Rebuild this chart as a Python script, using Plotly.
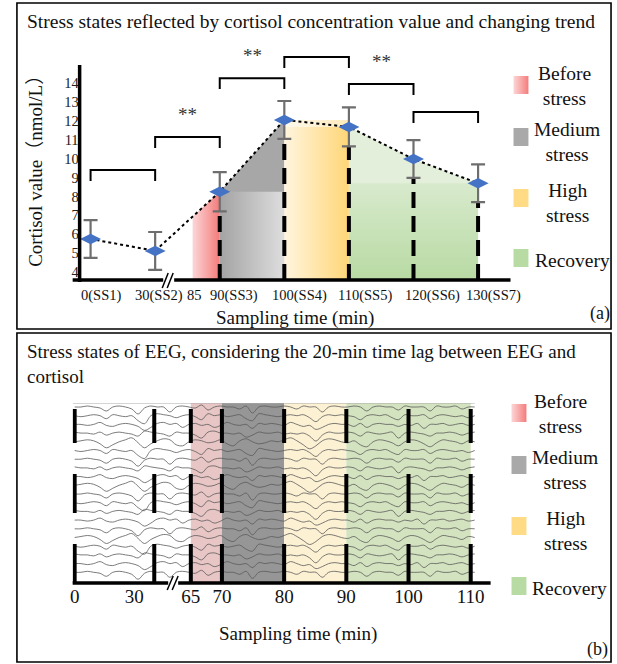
import plotly.graph_objects as go
import numpy as np

W, H = 617, 664
SERIF = "Liberation Serif, Times New Roman, Noto Sans CJK SC, serif"

# ---------------- Panel (a) data ----------------
sample_times = [0, 30, 90, 100, 110, 120, 130]
cortisol_mean = [5.75, 5.12, 8.25, 12.05, 11.68, 9.98, 8.70]
cortisol_err = [1.0, 1.0, 1.04, 1.0, 1.03, 1.0, 1.0]
a_tick_times = [0, 30, 85, 90, 100, 110, 120, 130]
a_tick_text = ["0(SS1)", "30(SS2)", "85", "90(SS3)", "100(SS4)", "110(SS5)", "120(SS6)", "130(SS7)"]
y_tick_vals = [4, 5, 6, 7, 8, 9, 10, 11, 12, 13, 14]
sig_pairs = [(0, 1), (1, 2), (2, 3), (3, 4), (4, 5), (5, 6)]
sig_marks = ["", "**", "**", "", "**", ""]

# stages
stage_names = ["Before<br>stress", "Medium<br>stress", "High<br>stress", "Recovery"]
cort_stage_start = [85, 90, 100, 110]
cort_stage_end = [90, 100, 110, 130]
eeg_stage_start = [65, 70, 80, 90]
eeg_stage_end = [70, 80, 90, 110]

# ---------------- Panel (b) data ----------------
b_tick_times = [0, 30, 65, 70, 80, 90, 100, 110]
eeg_marks = [0, 40, 65, 70, 80, 90, 100, 110]
eeg_A = [0, 0, 1, 0, -1, -4, 0, 1, 0, -2, -7, -1, 1, 0, 0, -5, 0, 1, 0, -1, 2, -3, 0, 1, 0, 0, -2, 1, -6, 0, 1, 0,
         0, 1, 0, -2, 1, 0, 0, -5, 0, 1, 0, 0, 1, 0, -4, 0, 1, 0, 0, -3, 1, 0, 0, 0, -4, 1, 0, 0, 1, -2, 0, 0]
eeg_B = [0, 1, 2, 1, -2, -6, -3, 0, 2, 4, -1, -6, -2, 1, 3, 2, -3, -4, 0, 2, 1, -1, 0, 2, -2, -4, 1, 3, 0, -2, -1, 1,
         0, 2, 4, 1, -3, -7, -4, 1, 3, 2, 0, -1, 1, -3, -5, 0, 2, 1, -1, -4, 0, 2, 1, -2, -5, -1, 2, 1, 0, -2, 1, 0]
eeg_C = [0, -1, 0, 1, 0, -3, 1, 0, -1, 0, -5, -8, 0, 2, 1, 0, -2, 0, 1, -1, -4, 2, 0, 1, -1, 0, 1, -3, -5, 2, 1, 0,
         -1, 0, 1, 0, 1, -2, -6, -1, 1, 0, 1, 0, -1, -4, 0, 1, 0, 1, -2, -4, 1, 0, 0, 1, -3, 0, 1, 0, -1, 0, -2, 0]
eeg_D = [1, 0, 0, -1, 1, -2, 0, 1, 0, -1, -3, 2, 1, 0, -1, -3, 1, 0, 0, -2, -5, 1, 2, 0, 0, -1, 0, -4, -2, 1, 0, 0,
         1, -1, 0, -1, 0, -3, -8, -2, 1, 0, 0, 1, 0, -3, 1, 0, -1, 0, 1, -5, 0, 1, 0, -1, -3, 0, 0, 1, 0, -2, 0, 1]
eeg_E = [0, 0, -1, 0, 2, -1, -2, 0, 1, 0, -2, -6, -3, 1, 2, 0, 1, -3, 0, 1, -1, 0, -3, -1, 2, 0, -1, 0, -4, 1, 0, 1,
         0, -1, 2, 0, -2, -1, -5, -3, 0, 1, 0, 0, -2, 1, -3, 0, 1, 0, 0, -2, 0, -1, 1, -4, 0, 0, 1, -1, 0, 1, -1, 0]
eeg_channels = [eeg_A, eeg_C, eeg_E, eeg_D, eeg_B, eeg_C, eeg_A, eeg_D, eeg_E, eeg_B,
                eeg_A, eeg_C, eeg_D, eeg_E, eeg_A, eeg_B, eeg_C, eeg_D, eeg_E, eeg_A]

# ---------------- style ----------------
stage_fill_b = ["#e8c6c5", "#969696", "#fdf1d4", "#d4e3bf"]
legend_cols = ["#f7a5a5", "#a9a9a9", "#ffdb85", "#b8dba4"]
a_label_shift = [10, 4, 2, 14, 15, 16, 19, 15]
bracket_top = [9.40, 11.14, 14.26, 15.38, 13.95, 12.47]
BRACKET_LEG = 0.58
Y_BASE = 3.58
A_X0, A_DX = 88.0, 64.9


def pos_a(t):
    if t <= 30:
        return t / 30.0
    if t >= 90:
        return 2 + (t - 90) / 10.0
    return 2 - (90 - t) / 5.0 * 0.42


def pos_b(t):
    return 220 + (t - 70) * 6.25 if t >= 65 else 72 + 2.0 * t


def px(x):
    return x / W


def py(y):
    return 1 - y / H


fig = go.Figure()
pa = [pos_a(t) for t in sample_times]
m = cortisol_mean

# ----- panel (a) stage fills -----
p85, p90, p100, p110, p130 = [pos_a(t) for t in (85, 90, 100, 110, 130)]
line85 = float(np.interp(p85, pa, m))


def poly(xs, ys, **kw):
    fig.add_trace(go.Scatter(x=xs, y=ys, mode="lines", fill="toself", line=dict(width=0),
                             hoverinfo="skip", xaxis="x", yaxis="y", **kw))


poly([p85, p85, p90, p90], [Y_BASE, line85, m[2], Y_BASE],
     fillgradient=dict(type="horizontal", colorscale=[[0, "#fcd6d6"], [1, "#f37b7b"]]))
poly([p90, p90, p100, p100], [Y_BASE, m[2], m[3], Y_BASE], fillcolor="#a7a7a7")
poly([p90, p90, p100, p100], [Y_BASE, m[2], m[2], Y_BASE],
     fillgradient=dict(type="horizontal", colorscale=[[0, "#a3a3a3"], [1, "#dedede"]]))
poly([p100, p100, p110, p110], [Y_BASE, m[3], m[3], Y_BASE],
     fillgradient=dict(type="horizontal", colorscale=[[0, "#fff5de"], [1, "#ffd677"]]))
poly([p100, p100, p110, p110], [m[4], m[3], m[3], m[4]], fillcolor="rgba(255,255,255,0.5)")
poly([p110, p110, pa[5], p130, p130], [Y_BASE, m[4], m[5], m[6], Y_BASE], fillcolor="#e3efda")
poly([p110, p110, p130, p130], [Y_BASE, m[6], m[6], Y_BASE],
     fillgradient=dict(type="vertical", colorscale=[[0, "#b8daa3"], [1, "#d8eacd"]]))

# ----- dashed verticals -----
for i, t in enumerate(sample_times):
    if t >= 90:
        fig.add_trace(go.Scatter(x=[pa[i], pa[i]], y=[Y_BASE, m[i] - cortisol_err[i]], mode="lines",
                                 line=dict(color="black", width=4, dash="16px,8px"),
                                 hoverinfo="skip", xaxis="x", yaxis="y"))

# ----- dotted trend line -----
fig.add_trace(go.Scatter(x=pa, y=m, mode="lines", line=dict(color="black", width=2, dash="dot"),
                         hoverinfo="skip", xaxis="x", yaxis="y"))
# ----- markers with error bars -----
fig.add_trace(go.Scatter(x=pa, y=m, mode="markers",
                         marker=dict(symbol="diamond-wide", size=15, color="#4472c4"),
                         error_y=dict(type="data", array=cortisol_err, color="#6e6e6e", thickness=2.2, width=7),
                         hoverinfo="skip", xaxis="x", yaxis="y"))

# ----- significance brackets -----
annotations = []
for k, (i, j) in enumerate(sig_pairs):
    top = bracket_top[k]
    fig.add_trace(go.Scatter(x=[pa[i], pa[i], pa[j], pa[j]],
                             y=[top - BRACKET_LEG, top, top, top - BRACKET_LEG], mode="lines",
                             line=dict(color="black", width=2), hoverinfo="skip", xaxis="x", yaxis="y"))
    if sig_marks[k]:
        annotations.append(dict(x=(pa[i] + pa[j]) / 2, y=top + 0.55, xref="x", yref="y", text=sig_marks[k],
                                showarrow=False, font=dict(family=SERIF, size=19, color="#333"),
                                xanchor="center", yanchor="bottom"))

# ----- panel (a) x tick labels -----
for t, lab, sh in zip(a_tick_times, a_tick_text, a_label_shift):
    annotations.append(dict(x=pos_a(t), y=py(295), xref="x", yref="paper", text=lab, showarrow=False,
                            xshift=sh, font=dict(family=SERIF, size=14.5, color="#111"),
                            xanchor="center", yanchor="middle"))

# ---------------- panel (b) ----------------
shapes = []
for s, e, c in zip(eeg_stage_start, eeg_stage_end, stage_fill_b):
    shapes.append(dict(type="rect", xref="x2", yref="y2", x0=pos_b(s), x1=pos_b(e), y0=0, y1=180,
                       fillcolor=c, line=dict(width=0), layer="below"))

fig.add_trace(go.Scatter(x=[70, 474], y=[180, 180], mode="lines", line=dict(color="#aaaaaa", width=1.2),
                         hoverinfo="skip", xaxis="x2", yaxis="y2"))
for k, ch in enumerate(eeg_channels):
    base = 176 - k * 8.7
    xs = np.linspace(72, 474, len(ch))
    ys = [base + 1.0 * v for v in ch]
    fig.add_trace(go.Scatter(x=xs, y=ys, mode="lines", line=dict(color="#5a5a5a", width=0.8, shape="spline"),
                             hoverinfo="skip", xaxis="x2", yaxis="y2"))

bx, by = [], []
for t in eeg_marks:
    for (y0, y1) in [(140, 174), (70, 109), (0, 39)]:
        bx += [pos_b(t), pos_b(t), None]
        by += [y0, y1, None]
fig.add_trace(go.Scatter(x=bx, y=by, mode="lines", line=dict(color="black", width=4),
                         hoverinfo="skip", xaxis="x2", yaxis="y2"))

# ---------------- legends (pixel overlay) ----------------
leg_a_y = [85, 137, 198, 258]
leg_b_y = [413, 465, 526, 586]
for ys_, x0 in [(leg_a_y, 513), (leg_b_y, 511)]:
    for k, yc in enumerate(ys_):
        xs = [x0, x0 + 15, x0 + 15, x0, x0]
        yy = [yc - 9, yc - 9, yc + 9, yc + 9, yc - 9]
        if k == 0:
            fig.add_trace(go.Scatter(x=xs, y=yy, mode="lines", fill="toself", line=dict(width=0),
                                     fillgradient=dict(type="horizontal",
                                                       colorscale=[[0, "#fdd6d6"], [1, "#f47c7c"]]),
                                     hoverinfo="skip", xaxis="x3", yaxis="y3"))
        else:
            fig.add_trace(go.Scatter(x=xs, y=yy, mode="lines", fill="toself", line=dict(width=0),
                                     fillcolor=legend_cols[k], hoverinfo="skip", xaxis="x3", yaxis="y3"))

leg_a_txt = [(564, 86), (567, 142), (567, 203), (572, 260)]
leg_b_txt = [(560, 414), (565, 470), (565, 531), (569, 588)]
for pos_list in (leg_a_txt, leg_b_txt):
    for name, (xx, yy) in zip(stage_names, pos_list):
        annotations.append(dict(x=px(xx), y=py(yy), xref="paper", yref="paper", text=name, showarrow=False,
                                font=dict(family=SERIF, size=19.5, color="#111"), align="center",
                                xanchor="center", yanchor="middle"))


def txt(text, x, y, size, **kw):
    d = dict(x=px(x), y=py(y), xref="paper", yref="paper", text=text, showarrow=False,
             font=dict(family=SERIF, size=size, color="#111"), xanchor="center", yanchor="middle")
    d.update(kw)
    annotations.append(d)


txt("Stress states reflected by cortisol concentration value and changing trend", 22, 22, 19.5, xanchor="left")
txt("Cortisol value（nmol/L）", 32, 166, 19, textangle=-90)
txt("Sampling time (min)", 293, 318, 19)
txt("(a)", 600, 313, 18)
txt("Stress states of EEG, considering the 20-min time lag between EEG and<br>cortisol", 22, 339, 19,
    xanchor="left", yanchor="top", align="left")
txt("Sampling time (min)", 296, 634, 19)
txt("(b)", 597, 649, 18)


# ---------------- lines: borders, axes, breaks ----------------
def seg(x0, y0, x1, y1, w, color="black"):
    shapes.append(dict(type="line", xref="paper", yref="paper", x0=px(x0), y0=py(y0), x1=px(x1), y1=py(y1),
                       line=dict(color=color, width=w), layer="above"))


shapes.append(dict(type="rect", xref="paper", yref="paper", x0=px(14), x1=px(611), y0=py(329), y1=py(3),
                   line=dict(color="black", width=1.6)))
shapes.append(dict(type="rect", xref="paper", yref="paper", x0=px(14), x1=px(611), y0=py(662), y1=py(333),
                   line=dict(color="black", width=1.6)))
# panel a axes
seg(77, 65, 77, 282, 3.5)
seg(70, 280, 161, 280, 3.5)
seg(172, 280, 510, 280, 3.5)
seg(160, 288, 166, 273, 1.5)
seg(165, 288, 171, 273, 1.5)
# panel b axis
seg(70, 583, 166, 583, 3.5)
seg(176, 583, 490, 583, 3.5)
seg(165, 590, 171, 576, 1.5)
seg(170, 590, 176, 576, 1.5)

fig.update_layout(
    width=W, height=H, autosize=False, margin=dict(l=0, r=0, t=0, b=0),
    paper_bgcolor="white", plot_bgcolor="rgba(0,0,0,0)", showlegend=False, hovermode=False,
    font=dict(family=SERIF, color="#111"),
    xaxis=dict(domain=[px(77), px(512)], range=[(77 - A_X0) / A_DX, (512 - A_X0) / A_DX], visible=False,
               anchor="y"),
    yaxis=dict(domain=[py(280), py(40)], range=[Y_BASE, Y_BASE + 240 / 18.9], tickvals=y_tick_vals, ticks="",
               showline=False, showgrid=False, zeroline=False, anchor="x",
               tickfont=dict(family=SERIF, size=14.5, color="#222")),
    xaxis2=dict(domain=[px(70), px(490)], range=[70, 490], tickvals=[pos_b(t) for t in b_tick_times],
                ticktext=[str(t) for t in b_tick_times], ticks="", showgrid=False, zeroline=False,
                showline=False, tickangle=0, anchor="y2", tickfont=dict(family=SERIF, size=19, color="#111")),
    yaxis2=dict(domain=[py(583), py(403)], range=[0, 180], visible=False, anchor="x2"),
    xaxis3=dict(domain=[0, 1], range=[0, W], visible=False, anchor="y3"),
    yaxis3=dict(domain=[0, 1], range=[H, 0], visible=False, anchor="x3"),
    shapes=shapes, annotations=annotations,
)

fig.write_html("out.html", config={"displayModeBar": False},
               post_script="document.body.style.margin='0px';document.body.style.overflow='hidden';")
